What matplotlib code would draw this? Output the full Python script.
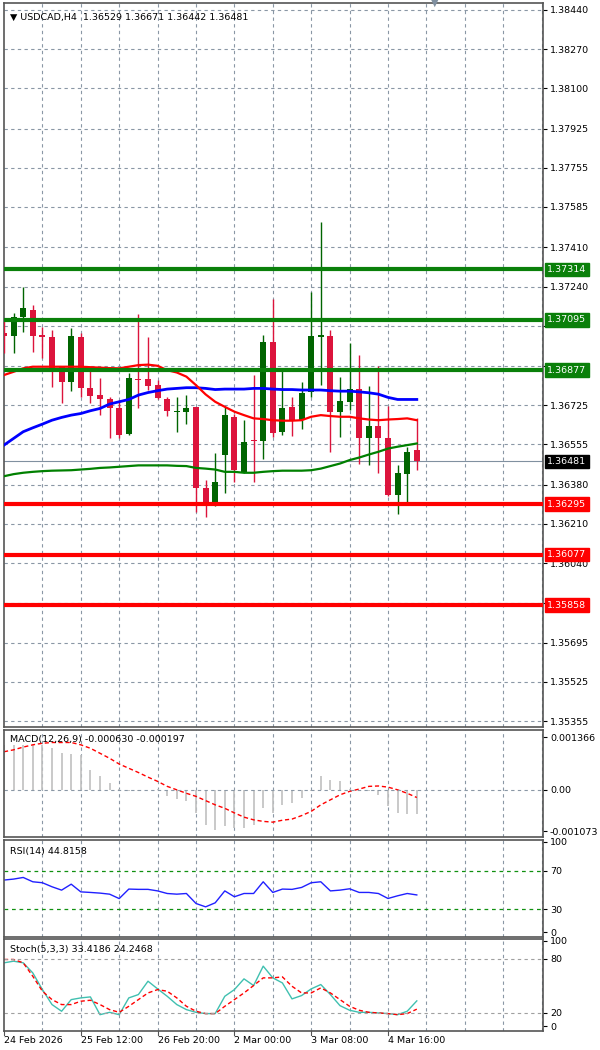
import matplotlib
matplotlib.use("Agg")
import matplotlib.pyplot as plt
import matplotlib.transforms as mtransforms
import numpy as np

opens = [1.37040,1.37027,1.37106,1.37138,1.37031,1.37019,1.36892,1.36824,1.37022,1.36801,1.36769,1.36750,1.36715,1.36598,1.36837,1.36837,1.36811,1.36753,1.36695,1.36694,1.36718,1.36368,1.36299,1.36511,1.36675,1.36436,1.36572,1.36571,1.36998,1.36610,1.36718,1.36660,1.36783,1.37019,1.37025,1.36694,1.36740,1.36795,1.36581,1.36634,1.36581,1.36335,1.36426,1.36529]
highs = [1.37095,1.37123,1.37236,1.37160,1.37066,1.37051,1.36892,1.37058,1.37040,1.36885,1.36841,1.36762,1.36747,1.36863,1.37121,1.37022,1.36834,1.36762,1.36762,1.36769,1.36718,1.36400,1.36516,1.36718,1.36689,1.36660,1.36856,1.37029,1.37184,1.36885,1.36759,1.36827,1.37218,1.37521,1.37051,1.36849,1.36993,1.36943,1.36808,1.36895,1.36721,1.36465,1.36545,1.36671]
lows = [1.36950,1.36950,1.37044,1.36957,1.36928,1.36805,1.36733,1.36788,1.36762,1.36736,1.36682,1.36581,1.36581,1.36595,1.36711,1.36791,1.36754,1.36678,1.36610,1.36643,1.36262,1.36238,1.36287,1.36345,1.36393,1.36432,1.36393,1.36490,1.36585,1.36595,1.36591,1.36624,1.36762,1.36812,1.36523,1.36585,1.36704,1.36469,1.36465,1.36429,1.36330,1.36255,1.36291,1.36442]
closes = [1.37025,1.37106,1.37145,1.37027,1.37022,1.36870,1.36824,1.37025,1.36798,1.36766,1.36750,1.36715,1.36595,1.36841,1.36833,1.36808,1.36757,1.36699,1.36701,1.36715,1.36368,1.36306,1.36393,1.36682,1.36443,1.36566,1.36569,1.37000,1.36605,1.36711,1.36660,1.36779,1.37025,1.37029,1.36694,1.36743,1.36795,1.36584,1.36634,1.36584,1.36335,1.36432,1.36523,1.36481]

ma_red = [1.36856,1.36870,1.36885,1.36892,1.36892,1.36892,1.36892,1.36892,1.36892,1.36890,1.36888,1.36886,1.36885,1.36892,1.36899,1.36901,1.36896,1.36877,1.36867,1.36849,1.36812,1.36772,1.36740,1.36718,1.36697,1.36682,1.36668,1.36665,1.36660,1.36658,1.36658,1.36660,1.36675,1.36682,1.36678,1.36675,1.36675,1.36668,1.36663,1.36660,1.36663,1.36665,1.36668,1.36660]
ma_blue = [1.36552,1.36581,1.36610,1.36627,1.36643,1.36660,1.36672,1.36682,1.36689,1.36701,1.36711,1.36730,1.36740,1.36750,1.36769,1.36780,1.36788,1.36795,1.36798,1.36801,1.36801,1.36798,1.36793,1.36795,1.36795,1.36795,1.36798,1.36798,1.36795,1.36793,1.36793,1.36791,1.36791,1.36791,1.36788,1.36786,1.36786,1.36783,1.36779,1.36773,1.36759,1.36750,1.36750,1.36750]
ma_green = [1.36417,1.36426,1.36432,1.36436,1.36439,1.36441,1.36442,1.36443,1.36446,1.36449,1.36453,1.36455,1.36458,1.36461,1.36464,1.36464,1.36464,1.36464,1.36462,1.36461,1.36453,1.36450,1.36446,1.36436,1.36436,1.36432,1.36432,1.36436,1.36439,1.36441,1.36441,1.36441,1.36443,1.36450,1.36461,1.36472,1.36487,1.36498,1.36511,1.36523,1.36537,1.36545,1.36552,1.36559]

macd_hist = [0.00117,0.00117,0.00117,0.00117,0.00117,0.00108,0.00095,0.00093,0.00091,0.00052,0.00036,0.00017,0.00002,-0.00002,-0.00002,0.0,0.00002,-0.00017,-0.00024,-0.00028,-0.00060,-0.00091,-0.00105,-0.00095,-0.00099,-0.00099,-0.00091,-0.00048,-0.00060,-0.00039,-0.00033,-0.00022,-0.00002,0.00036,0.00026,0.00022,0.00002,0.0,-0.00002,-0.00013,-0.00043,-0.00059,-0.00062,-0.00063]
macd_signal = [0.00099,0.00104,0.00111,0.00117,0.00121,0.00123,0.00123,0.00123,0.00117,0.00108,0.00095,0.00082,0.00067,0.00056,0.00045,0.00033,0.00022,0.00009,0.0,-0.00009,-0.00017,-0.00028,-0.00039,-0.00048,-0.00060,-0.00071,-0.00078,-0.00082,-0.00084,-0.00079,-0.00076,-0.00067,-0.00056,-0.00039,-0.00026,-0.00013,-0.00004,0.00002,0.00009,0.00010,0.00007,0.0,-0.00009,-0.00020]
rsi = [60.3,61.3,63.0,58.5,57.5,53.3,49.8,56.0,48.0,47.4,46.7,45.6,41.0,50.9,50.6,50.6,49.0,46.3,45.6,46.3,35.9,32.4,36.6,49.0,42.9,46.3,46.3,58.5,47.4,50.9,50.6,52.6,57.5,58.5,49.0,49.8,51.2,47.4,47.4,46.3,41.1,43.9,46.3,44.8]
stoch_k = [75.6,77.4,75.6,64.4,45.9,29.3,21.9,34.8,36.7,37.8,18.1,20.7,18.1,36.7,40.4,55.2,46.7,38.5,29.3,23.7,20.7,19.3,19.3,38.5,45.9,57.8,50.4,71.9,58.9,53.3,35.6,39.3,46.7,51.5,40.4,28.1,23.0,20.7,20.7,20.0,19.3,18.1,21.9,33.4]
stoch_d = [79.3,79.3,75.6,60.7,44.1,34.8,29.3,29.3,33.0,34.1,29.3,23.7,20.7,27.4,34.8,42.2,45.9,44.1,36.7,27.4,21.9,19.3,19.3,27.4,34.8,42.2,50.4,58.9,58.9,60.0,49.6,42.2,42.2,47.8,42.2,34.8,27.4,23.0,20.7,20.0,19.3,18.1,19.3,24.2]

green_levels = [1.37314, 1.37095, 1.36877]
red_levels = [1.36295, 1.36077, 1.35858]
price_ticks = [1.38440,1.38270,1.38100,1.37925,1.37755,1.37585,1.37410,1.37240,1.37070,1.36895,1.36725,1.36555,1.36380,1.36210,1.36040,1.35865,1.35695,1.35525,1.35355]
hidden_ticks = [1.37070, 1.36895, 1.35865]
date_idx = [0, 8, 16, 24, 32, 40]
date_labels = ["24 Feb 2026", "25 Feb 12:00", "26 Feb 20:00", "2 Mar 00:00", "3 Mar 08:00", "4 Mar 16:00"]
last_price = 1.36481

W, H = 600, 1050
fig = plt.figure(figsize=(6, 10.5), dpi=100)
fig.patch.set_facecolor("white")
XL, XR = 4, 543
def rect(top, bot):
    return [XL / W, 1 - bot / H, (XR - XL) / W, (bot - top) / H]

ax = fig.add_axes(rect(3, 727))
axm = fig.add_axes(rect(730, 837))
axr = fig.add_axes(rect(840, 937))
axs = fig.add_axes(rect(939, 1031))

n = len(closes)
x = np.arange(n)
XMAX = (XR - XL) / 9.6
GRIDC = "#8a97a5"
FS = 6.8
UP, DN = "#006400", "#dc143c"

for a in (ax, axm, axr, axs):
    a.set_xlim(0, XMAX)
    for s in a.spines.values():
        s.set_color("#555555"); s.set_linewidth(1.2)
    a.yaxis.tick_right()
    a.tick_params(axis="y", labelsize=FS, length=3, pad=2, colors="black")
    a.tick_params(axis="x", length=0, labelbottom=False)
    a.set_xticks(np.arange(4, XMAX, 4))
    a.grid(axis="x", color=GRIDC, linestyle=(0, (3, 3)), linewidth=0.8)
    a.set_axisbelow(True)

# main
ax.set_ylim(1.35329, 1.38470)
ax.set_yticks(price_ticks)
ax.set_yticklabels(["" if t in hidden_ticks else f"{t:.5f}" for t in price_ticks])
ax.grid(axis="y", color=GRIDC, linestyle=(0, (3, 3)), linewidth=0.8)
o, h, l, c = map(np.array, (opens, highs, lows, closes))
cols = [UP if cc >= oo else DN for oo, cc in zip(o, c)]
ax.vlines(x, l, h, colors=cols, linewidth=1, zorder=3)
ax.bar(x, np.maximum(np.abs(c - o), 0.00003), bottom=np.minimum(o, c), width=0.62, color=cols, zorder=4)
ax.plot(x, ma_green, color="#008000", lw=1.6, zorder=5)
ax.plot(x, ma_blue, color="#0000ff", lw=2, zorder=5)
ax.plot(x, ma_red, color="#ff0000", lw=1.6, zorder=5)
ax.axhline(last_price, color="#8090a0", lw=0.8, zorder=2)
for lv in green_levels:
    ax.axhline(lv, color="#0a800a", lw=3, zorder=6)
for lv in red_levels:
    ax.axhline(lv, color="#ff0000", lw=3, zorder=6)
tr = mtransforms.blended_transform_factory(ax.transAxes, ax.transData)
def label(v, fc):
    ax.text(1.008, v, f"{v:.5f}", transform=tr, fontsize=FS, color="white", va="center", ha="left",
            bbox=dict(boxstyle="square,pad=0.25", fc=fc, ec=fc), zorder=10, clip_on=False)
for lv in green_levels:
    label(lv, "#0a800a")
for lv in red_levels:
    label(lv, "#ff0000")
label(last_price, "black")
ax.text(0.012, 0.987, "\u25bc USDCAD,H4  1.36529 1.36671 1.36442 1.36481", transform=ax.transAxes,
        fontsize=FS, va="top", ha="left", zorder=11)
ax.text((435 - XL) / (XR - XL), 1.0, "\u25bc", transform=ax.transAxes, fontsize=7, color="#8090a0",
        ha="center", va="center", zorder=11)

# MACD
axm.set_ylim(-0.001226, 0.001555)
axm.vlines(x, 0, macd_hist, colors="#c0c0c0", linewidth=1.2)
axm.plot(x, macd_signal, color="#ff0000", lw=1, linestyle=(0, (3, 2)))
axm.axhline(0, color=GRIDC, linestyle=(0, (3, 3)), lw=0.8)
axm.set_yticks([0.001366, 0.0, -0.001073])
axm.set_yticklabels(["0.001366", "0.00", "-0.001073"])
axm.text(0.012, 0.95, "MACD(12,26,9) -0.000630 -0.000197", transform=axm.transAxes, fontsize=FS, va="top")

# RSI
axr.set_ylim(1, 102)
axr.plot(x, rsi, color="#2020ff", lw=1)
for lv in (70, 30):
    axr.axhline(lv, color="#109010", linestyle=(0, (3, 3)), lw=0.9)
axr.set_yticks([100, 70, 30, 6])
axr.set_yticklabels(["100", "70", "30", "0"])
axr.text(0.012, 0.93, "RSI(14) 44.8158", transform=axr.transAxes, fontsize=FS, va="top")

# Stoch
axs.set_ylim(0, 102)
axs.plot(x, stoch_k, color="#40c0b0", lw=1)
axs.plot(x, stoch_d, color="#ff0000", lw=1, linestyle=(0, (3, 2)))
for lv in (80, 20):
    axs.axhline(lv, color="#a0a0a0", linestyle=(0, (3, 3)), lw=0.8)
axs.set_yticks([100, 80, 20, 5])
axs.set_yticklabels(["100", "80", "20", "0"])
axs.text(0.012, 0.93, "Stoch(5,3,3) 33.4186 24.2468", transform=axs.transAxes, fontsize=FS, va="top")
for i, lab in zip(date_idx, date_labels):
    axs.text(i, -0.05, lab, transform=mtransforms.blended_transform_factory(axs.transData, axs.transAxes),
             fontsize=FS, ha="left", va="top")
    axs.plot([i, i], [0, -0.04], transform=mtransforms.blended_transform_factory(axs.transData, axs.transAxes),
             color="#555555", lw=0.8, clip_on=False)

fig.savefig("out.png", dpi=100)
